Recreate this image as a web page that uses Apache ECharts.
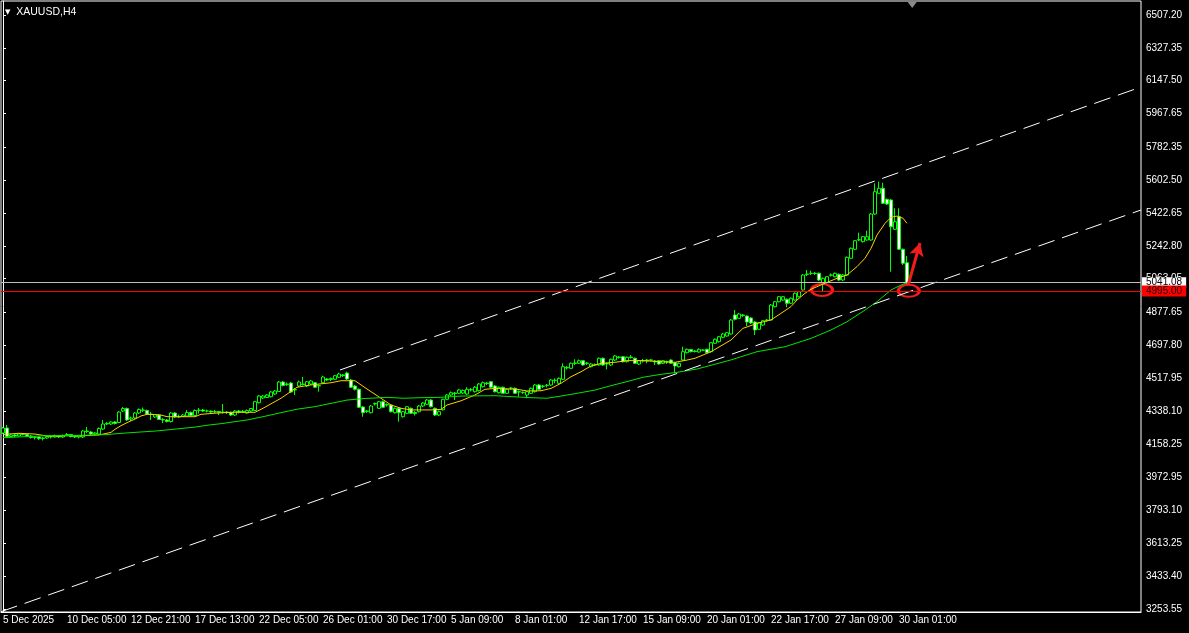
<!DOCTYPE html>
<html>
<head>
<meta charset="utf-8">
<title>XAUUSD,H4</title>
<script src="https://cdn.jsdelivr.net/npm/echarts@6/dist/echarts.min.js"></script>
<style>
  html, body { margin: 0; padding: 0; background: #000; }
  #chart { width: 1189px; height: 633px; }
</style>
</head>
<body>
<div id="chart"></div>
<script>
// ---- data ----
const symbolName = 'XAUUSD,H4'

// H4 candles: [open, close, low, high]
const candles = [
  [4217.7, 4245.0, 4212.2, 4250.5], [4245.0, 4198.5, 4195.7, 4261.4], [4198.5, 4206.7, 4193.0, 4212.2], [4206.7, 4201.2, 4195.7, 4212.2],
  [4201.2, 4212.2, 4198.5, 4214.9], [4212.2, 4209.4, 4204.0, 4217.7], [4209.4, 4201.2, 4195.7, 4212.2], [4201.2, 4193.0, 4187.5, 4206.7],
  [4193.0, 4195.7, 4182.0, 4201.2], [4195.7, 4187.5, 4179.3, 4198.5], [4187.5, 4190.3, 4176.6, 4195.7], [4190.3, 4198.5, 4184.8, 4204.0],
  [4198.5, 4195.7, 4187.5, 4204.0], [4195.7, 4201.2, 4193.0, 4209.4], [4201.2, 4195.7, 4190.3, 4206.7], [4195.7, 4204.0, 4190.3, 4209.4],
  [4204.0, 4209.4, 4201.2, 4217.7], [4209.4, 4198.5, 4193.0, 4212.2], [4198.5, 4195.7, 4190.3, 4204.0], [4195.7, 4201.2, 4187.5, 4206.7],
  [4195.7, 4228.6, 4190.3, 4234.1], [4228.6, 4225.9, 4217.7, 4250.5], [4223.1, 4212.2, 4206.7, 4228.6], [4212.2, 4217.7, 4206.7, 4223.1],
  [4212.2, 4242.3, 4206.7, 4247.8], [4239.6, 4266.9, 4234.1, 4288.9], [4266.9, 4269.7, 4261.4, 4277.9], [4266.9, 4277.9, 4261.4, 4283.4],
  [4277.9, 4269.7, 4264.2, 4283.4], [4275.1, 4332.7, 4272.4, 4338.2], [4338.2, 4351.9, 4332.7, 4360.1], [4351.9, 4288.9, 4283.4, 4357.3],
  [4294.3, 4299.8, 4283.4, 4308.0], [4299.8, 4327.2, 4294.3, 4332.7], [4327.2, 4346.4, 4321.7, 4351.9], [4343.6, 4342.5, 4332.7, 4357.3],
  [4340.9, 4321.7, 4316.2, 4346.4], [4321.7, 4318.9, 4288.9, 4332.7], [4305.3, 4318.9, 4299.8, 4321.7], [4316.2, 4291.5, 4288.9, 4321.7],
  [4291.5, 4288.9, 4272.4, 4299.8], [4288.9, 4280.6, 4275.1, 4294.3], [4280.6, 4327.2, 4275.1, 4332.7], [4327.2, 4305.3, 4299.8, 4332.7],
  [4305.3, 4308.0, 4299.8, 4318.9], [4308.0, 4316.2, 4305.3, 4321.7], [4310.7, 4329.9, 4305.3, 4343.6], [4329.9, 4313.5, 4308.0, 4335.4],
  [4313.5, 4340.9, 4310.7, 4346.4], [4340.9, 4343.6, 4324.4, 4354.6], [4343.6, 4338.2, 4332.7, 4349.1], [4338.2, 4337.5, 4329.9, 4346.4],
  [4337.5, 4332.7, 4327.2, 4340.9], [4332.7, 4335.4, 4327.2, 4343.6], [4335.4, 4329.9, 4316.2, 4338.2], [4329.9, 4332.7, 4324.4, 4376.5],
  [4332.7, 4329.9, 4321.7, 4338.2], [4329.9, 4316.2, 4310.7, 4335.4], [4316.2, 4338.2, 4310.7, 4343.6], [4338.2, 4332.7, 4324.4, 4343.6],
  [4332.7, 4335.4, 4327.2, 4343.6], [4327.2, 4340.9, 4324.4, 4346.4], [4338.2, 4351.9, 4332.7, 4354.6], [4340.9, 4389.0, 4338.2, 4392.9],
  [4383.6, 4420.3, 4379.2, 4425.8], [4409.4, 4420.3, 4403.9, 4425.8], [4412.1, 4425.8, 4409.4, 4431.3], [4416.5, 4442.2, 4412.1, 4447.7],
  [4431.3, 4447.7, 4425.8, 4453.2], [4445.0, 4497.0, 4442.2, 4502.5], [4497.0, 4477.9, 4472.4, 4502.5], [4483.3, 4486.1, 4475.1, 4494.3],
  [4491.5, 4442.2, 4436.7, 4497.0], [4453.2, 4455.9, 4425.8, 4464.1], [4475.1, 4497.0, 4469.6, 4505.2], [4486.1, 4483.3, 4477.9, 4524.4],
  [4475.1, 4498.6, 4469.6, 4502.5], [4486.1, 4502.5, 4480.6, 4508.0], [4493.2, 4468.0, 4464.1, 4497.0], [4475.1, 4477.9, 4443.9, 4483.3],
  [4493.2, 4524.4, 4488.8, 4531.5], [4513.4, 4508.0, 4502.5, 4518.9], [4510.7, 4516.1, 4502.5, 4521.6], [4511.8, 4531.5, 4508.0, 4535.3],
  [4522.7, 4540.8, 4518.9, 4547.9], [4535.3, 4532.6, 4524.4, 4540.8], [4546.3, 4513.4, 4508.0, 4553.4], [4508.0, 4468.0, 4464.1, 4513.4],
  [4475.1, 4457.0, 4450.5, 4480.6], [4457.0, 4358.4, 4354.6, 4461.4], [4360.1, 4328.8, 4306.9, 4365.5], [4338.2, 4335.4, 4327.2, 4343.6],
  [4328.8, 4365.5, 4324.4, 4371.0], [4376.5, 4379.2, 4368.3, 4384.7], [4352.9, 4389.0, 4349.1, 4392.9], [4389.0, 4358.4, 4354.6, 4395.6],
  [4371.0, 4373.8, 4362.8, 4379.2], [4371.0, 4334.3, 4329.9, 4376.5], [4328.8, 4352.9, 4324.4, 4357.3], [4352.9, 4328.8, 4279.5, 4357.3],
  [4306.9, 4334.3, 4302.5, 4338.2], [4325.6, 4361.7, 4321.7, 4365.5], [4352.9, 4325.6, 4321.7, 4357.3], [4329.9, 4324.4, 4313.5, 4338.2],
  [4334.3, 4365.5, 4329.9, 4371.0], [4365.5, 4381.9, 4360.1, 4387.4], [4374.8, 4398.4, 4371.0, 4403.9], [4398.4, 4361.7, 4357.3, 4403.9],
  [4352.9, 4316.2, 4310.7, 4357.3], [4316.2, 4334.3, 4310.7, 4340.9], [4345.0, 4402.2, 4340.0, 4406.6], [4402.2, 4425.8, 4398.4, 4431.3],
  [4425.8, 4438.4, 4420.3, 4445.0], [4436.7, 4434.0, 4398.4, 4442.2], [4435.1, 4453.2, 4431.3, 4458.7], [4436.7, 4450.5, 4431.3, 4455.9],
  [4431.3, 4457.0, 4425.8, 4468.0], [4453.2, 4455.9, 4445.0, 4464.1], [4443.9, 4468.0, 4439.5, 4475.1], [4449.4, 4486.1, 4445.0, 4491.5],
  [4471.3, 4493.2, 4466.9, 4499.7], [4491.5, 4488.8, 4480.6, 4497.0], [4498.6, 4468.0, 4464.1, 4502.5], [4475.1, 4443.9, 4439.5, 4480.6],
  [4438.4, 4468.0, 4434.0, 4472.4], [4468.0, 4435.1, 4431.3, 4472.4], [4435.1, 4457.0, 4431.3, 4461.4], [4462.5, 4464.1, 4453.2, 4469.6],
  [4462.5, 4435.1, 4431.3, 4466.9], [4442.2, 4443.9, 4416.5, 4450.5], [4439.5, 4441.0, 4431.3, 4445.0], [4425.8, 4443.9, 4407.7, 4447.7],
  [4435.1, 4462.5, 4431.3, 4466.9], [4443.9, 4480.6, 4439.5, 4486.1], [4480.6, 4457.0, 4453.2, 4486.1], [4472.4, 4475.1, 4464.1, 4480.6],
  [4477.9, 4479.5, 4466.9, 4486.1], [4480.6, 4508.0, 4475.1, 4513.4], [4505.2, 4507.0, 4489.9, 4517.2], [4489.9, 4517.2, 4486.1, 4521.6],
  [4511.8, 4580.8, 4508.0, 4599.4], [4576.4, 4573.7, 4565.5, 4584.6], [4572.0, 4599.4, 4568.2, 4603.8], [4598.3, 4601.1, 4590.1, 4621.4],
  [4599.4, 4613.7, 4595.6, 4620.3], [4613.7, 4590.1, 4586.3, 4617.5], [4598.3, 4601.1, 4590.1, 4606.6], [4580.8, 4595.6, 4576.4, 4601.1],
  [4590.1, 4591.5, 4584.6, 4598.3], [4590.1, 4626.9, 4586.3, 4631.3], [4626.9, 4590.1, 4586.3, 4631.3], [4595.6, 4598.3, 4566.5, 4603.8],
  [4590.1, 4621.4, 4584.6, 4625.8], [4617.5, 4639.5, 4612.0, 4644.9], [4634.0, 4631.3, 4624.7, 4639.5], [4635.6, 4608.2, 4603.8, 4639.5],
  [4608.2, 4632.4, 4603.8, 4636.7], [4634.0, 4631.3, 4624.7, 4644.9], [4626.9, 4599.4, 4595.6, 4631.3], [4595.6, 4613.7, 4590.1, 4617.5],
  [4614.8, 4612.0, 4603.8, 4623.0], [4617.5, 4612.0, 4599.4, 4623.0], [4617.5, 4616.5, 4609.3, 4623.0], [4612.0, 4606.6, 4590.1, 4617.5],
  [4613.7, 4595.6, 4591.7, 4617.5], [4599.4, 4613.7, 4595.6, 4617.5], [4606.6, 4609.3, 4595.6, 4614.8], [4617.5, 4599.4, 4595.6, 4621.4],
  [4602.7, 4584.6, 4544.6, 4606.6], [4580.8, 4599.4, 4576.4, 4603.8], [4617.5, 4663.0, 4613.7, 4690.4], [4657.5, 4676.1, 4653.1, 4680.5],
  [4675.0, 4663.0, 4658.6, 4677.8], [4666.8, 4664.1, 4658.6, 4672.3], [4661.3, 4676.1, 4657.5, 4680.5], [4672.3, 4671.0, 4666.8, 4677.8],
  [4676.1, 4657.5, 4653.1, 4679.4], [4663.0, 4712.3, 4658.6, 4716.1], [4709.0, 4730.9, 4705.1, 4735.3], [4717.7, 4745.1, 4713.4, 4749.0],
  [4741.8, 4759.9, 4738.0, 4765.4], [4749.0, 4767.0, 4745.1, 4770.9], [4759.9, 4836.6, 4756.1, 4842.1], [4864.0, 4840.4, 4833.9, 4891.4],
  [4845.9, 4869.5, 4842.1, 4875.0], [4864.0, 4861.2, 4853.0, 4869.5], [4858.5, 4825.6, 4803.7, 4861.2], [4847.6, 4820.2, 4814.7, 4853.0],
  [4825.6, 4781.8, 4754.4, 4831.1], [4785.7, 4821.8, 4781.8, 4825.6], [4809.2, 4832.8, 4805.4, 4836.6], [4836.6, 4833.9, 4827.3, 4842.1],
  [4836.6, 4918.8, 4832.8, 4924.2], [4909.5, 4936.8, 4905.1, 4940.7], [4936.8, 4964.2, 4932.5, 4968.1], [4946.2, 4964.2, 4942.3, 4968.1],
  [4950.0, 4928.1, 4906.2, 4954.4], [4928.1, 4955.5, 4924.2, 4959.9], [4946.2, 4982.9, 4942.3, 4987.2], [4964.2, 4991.6, 4959.9, 4995.4],
  [5000.9, 5083.1, 4997.1, 5088.6], [5085.8, 5088.6, 5077.6, 5110.5], [5091.3, 5092.4, 5083.1, 5106.6], [5092.4, 5091.3, 5083.1, 5099.6],
  [5092.4, 5055.7, 5050.2, 5096.8], [5037.6, 5065.0, 4991.6, 5069.4], [5040.9, 5073.8, 5036.5, 5077.6], [5083.1, 5082.0, 5074.9, 5091.3],
  [5073.8, 5092.4, 5069.4, 5096.8], [5086.9, 5055.7, 5050.2, 5091.3], [5055.7, 5083.1, 5050.2, 5088.6], [5083.1, 5180.0, 5077.6, 5184.4],
  [5174.6, 5229.3, 5170.7, 5233.7], [5223.9, 5271.0, 5220.0, 5274.8], [5274.8, 5276.5, 5269.3, 5314.8], [5265.5, 5292.9, 5261.1, 5296.7],
  [5274.8, 5292.9, 5271.0, 5325.7], [5274.8, 5417.2, 5271.0, 5422.7], [5417.2, 5539.4, 5411.7, 5585.4], [5530.6, 5558.0, 5526.8, 5594.1],
  [5558.0, 5475.8, 5472.0, 5588.7], [5497.7, 5472.0, 5466.5, 5502.1], [5493.9, 5347.7, 5101.2, 5499.4], [5333.4, 5375.0, 5329.6, 5448.4],
  [5402.4, 5223.9, 5220.0, 5448.4], [5223.9, 5147.2, 5137.9, 5228.3], [5150.5, 5041.08, 5028.3, 5187.2]
]

// moving averages, [bar, price]
const fastMA = [
  [0, 4210], [4, 4216], [8, 4212], [11, 4201], [20, 4203], [24, 4207], [27, 4221], [28, 4238], [29.5, 4258],
  [31, 4274], [33, 4294], [34.5, 4311], [36, 4320], [39.5, 4316], [41, 4307], [44.5, 4307], [48, 4307],
  [49.5, 4320], [53, 4326], [57, 4331], [63, 4331], [65, 4353], [69.5, 4408], [73.5, 4468], [77, 4481],
  [82, 4493], [84.5, 4504], [88, 4504], [89.5, 4481], [92, 4444], [94.5, 4408], [97, 4371], [99.5, 4353],
  [102, 4344], [107, 4344], [109.5, 4347], [111, 4371], [114.5, 4394], [118, 4426], [120.5, 4457], [123, 4462],
  [128.5, 4457], [131, 4448], [134.5, 4449], [137, 4462], [139.5, 4490], [142, 4526], [144.5, 4553], [147, 4585],
  [149.5, 4599], [153, 4605], [156, 4614], [160, 4614], [164.5, 4608], [168, 4605], [171, 4617], [173, 4627],
  [177, 4663], [182, 4727], [185, 4791], [188.5, 4818], [192, 4837], [194.5, 4873], [197, 4910], [198.5, 4946],
  [200.5, 4983], [202, 5005], [205.5, 5038], [208.5, 5065], [211, 5083], [213.5, 5129], [215.5, 5175], [217, 5229],
  [218.5, 5302], [220.5, 5366], [222, 5399], [223.5, 5406], [225, 5394], [226, 5366]
]
const slowMA = [
  [0, 4192], [4, 4196], [10, 4202], [20, 4205], [26, 4209], [29, 4215], [33, 4221], [38.5, 4229], [43.5, 4240],
  [48, 4250], [51, 4260], [55, 4270], [58, 4280], [61, 4289], [65, 4307], [69.5, 4329], [73.5, 4348], [78, 4362],
  [82, 4380], [86, 4398], [90, 4406], [96, 4413], [100, 4408], [104.5, 4411], [109.5, 4413], [114.5, 4420],
  [123, 4422], [127, 4417], [132, 4411], [136, 4408], [139.5, 4420], [143.5, 4435], [148, 4453], [152, 4477],
  [156, 4499], [160, 4523], [164.5, 4539], [168.5, 4550], [173.5, 4568], [182, 4618], [188.5, 4663], [195.5, 4690],
  [202, 4736], [207, 4782], [211, 4827], [215.5, 4891], [218.5, 4937], [222, 5001], [224.5, 5028], [226, 5041]
]

// channel trend lines, [bar, price]
const upperChannel = [[84.25, 4562.7], [284.5, 6112.8]]
const lowerChannel = [[-0.5, 3238.8], [284.5, 5439.1]]

// hand-drawn marks
const touchPoints = [[204.75, 5000.9], [226.45, 4996.5]]
const arrowPath = [[226.3, 5028.3], [229.25, 5258.4]]
const shiftMarkBar = 227.3

const bidPrice = 5041.08
const alertPrice = 4995.00

const priceTicks = [6507.20, 6327.35, 6147.50, 5967.65, 5782.35, 5602.50, 5422.65, 5242.80, 5063.05,
  4877.65, 4697.80, 4517.95, 4338.10, 4158.25, 3972.95, 3793.10, 3613.25, 3433.40, 3253.55]
const priceMin = 3237.2
const priceMax = 6583.9

const timeLabels = ['5 Dec 2025', '10 Dec 05:00', '12 Dec 21:00', '17 Dec 13:00', '22 Dec 05:00',
  '26 Dec 01:00', '30 Dec 17:00', '5 Jan 09:00', '8 Jan 01:00', '12 Jan 17:00', '15 Jan 09:00',
  '20 Jan 01:00', '22 Jan 17:00', '27 Jan 09:00', '30 Jan 01:00']
const timeLabelBars = [0, 16, 32, 48, 64, 80, 96, 112, 128, 144, 160, 176, 192, 208, 224]
const barSlots = 285

// ---- chart ----
const chart = echarts.init(document.getElementById('chart'))

const categories = Array.from({ length: barSlots }, (_, i) => String(i))
const labelAt = {}
timeLabelBars.forEach((b, k) => { labelAt[b] = timeLabels[k] })
const isLabelled = (i) => labelAt[i] !== undefined

const font = 'Liberation Sans, Arial, sans-serif'
const red = '#f21c1c'

const option = {
  animation: false,
  backgroundColor: '#000000',
  title: {
    text: '{t|▼}  ' + symbolName,
    left: 5,
    top: 7,
    padding: 0,
    textStyle: {
      color: '#ffffff',
      fontSize: 10.5,
      fontWeight: 'normal',
      fontFamily: font,
      rich: { t: { fontSize: 7, color: '#ffffff', fontFamily: 'DejaVu Sans' } }
    }
  },
  grid: {
    left: 1,
    top: 1,
    width: 1140,
    height: 611,
    show: true,
    borderColor: '#ffffff',
    borderWidth: 1
  },
  xAxis: [
    {
      type: 'category',
      data: categories,
      boundaryGap: true,
      axisLine: { lineStyle: { color: '#ffffff', width: 1 } },
      axisTick: { alignWithLabel: true, length: 4, interval: isLabelled, lineStyle: { color: '#ffffff' } },
      axisLabel: {
        interval: isLabelled,
        formatter: (v, i) => labelAt[i] || '',
        align: 'left',
        margin: 3,
        color: '#ffffff',
        fontSize: 10,
        fontFamily: font
      },
      splitLine: { show: false }
    },
    { type: 'value', min: -0.5, max: barSlots - 0.5, show: false }
  ],
  yAxis: {
    type: 'value',
    position: 'right',
    min: priceMin,
    max: priceMax,
    axisLine: { show: true, lineStyle: { color: '#ffffff' } },
    axisTick: { show: true, length: 3, customValues: priceTicks, lineStyle: { color: '#ffffff' } },
    axisLabel: {
      customValues: priceTicks,
      formatter: (v) => v.toFixed(2),
      margin: 5,
      color: '#ffffff',
      fontSize: 10,
      fontFamily: font
    },
    splitLine: { show: false }
  },
  series: [
    {
      type: 'candlestick',
      name: symbolName,
      data: candles,
      barWidth: 3,
      silent: true,
      itemStyle: {
        color: '#000000',
        color0: '#ffffff',
        borderColor: '#00ff00',
        borderColor0: '#00ff00',
        borderColorDoji: '#00ff00',
        borderWidth: 1
      },
      markLine: {
        symbol: 'none',
        silent: true,
        animation: false,
        data: [
          {
            yAxis: bidPrice,
            lineStyle: { color: '#c0c0c0', width: 1, type: 'solid' },
            label: {
              position: 'end', distance: 1, formatter: (p) => p.value.toFixed(2),
              color: '#000000', backgroundColor: '#ffffff', padding: [1, 4, 0, 4],
              fontSize: 10, fontFamily: font
            }
          },
          {
            yAxis: alertPrice,
            lineStyle: { color: '#ff0000', width: 1, type: 'solid' },
            label: {
              position: 'end', distance: 1, formatter: (p) => p.value.toFixed(2),
              color: '#1a0000', backgroundColor: '#ff0000', padding: [1, 4, 0, 4],
              fontSize: 10, fontFamily: font
            }
          }
        ]
      }
    },
    {
      type: 'line',
      name: 'fast MA',
      xAxisIndex: 1,
      data: fastMA,
      showSymbol: false,
      silent: true,
      lineStyle: { color: '#ffd000', width: 1 }
    },
    {
      type: 'line',
      name: 'slow MA',
      xAxisIndex: 1,
      data: slowMA,
      showSymbol: false,
      silent: true,
      lineStyle: { color: '#00e600', width: 1 }
    },
    {
      type: 'line',
      name: 'upper channel',
      xAxisIndex: 1,
      data: upperChannel,
      showSymbol: false,
      silent: true,
      lineStyle: { color: '#ffffff', width: 1, type: [17, 8] }
    },
    {
      type: 'line',
      name: 'lower channel',
      xAxisIndex: 1,
      data: lowerChannel,
      showSymbol: false,
      silent: true,
      lineStyle: { color: '#ffffff', width: 1, type: [17, 8] }
    },
    {
      type: 'scatter',
      name: 'marks',
      xAxisIndex: 1,
      data: touchPoints,
      silent: true,
      symbol: 'path://M0,6A10.5,6,0,1,1,21,6A10.5,6,0,1,1,0,6Z',
      symbolSize: [21, 12],
      itemStyle: { color: 'rgba(0,0,0,0)', borderColor: red, borderWidth: 2.5, opacity: 1 },
      markLine: {
        silent: true,
        animation: false,
        symbol: ['none', 'arrow'],
        symbolSize: [11, 13],
        lineStyle: { color: red, width: 3, type: 'solid' },
        label: { show: false },
        data: [[{ coord: arrowPath[0] }, { coord: arrowPath[1] }]]
      },
      markPoint: {
        silent: true,
        animation: false,
        data: [{
          coord: [shiftMarkBar, priceMax],
          symbol: 'triangle',
          symbolRotate: 180,
          symbolSize: [9, 6],
          symbolOffset: [0, 4],
          itemStyle: { color: '#8a8a8a' },
          label: { show: false }
        }]
      }
    }
  ]
}

chart.setOption(option)
</script>
</body>
</html>
